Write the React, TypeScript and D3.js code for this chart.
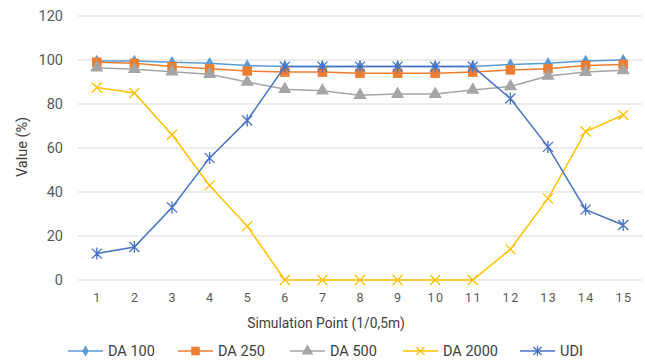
import React, { useEffect, useRef } from 'react';
import * as d3 from 'd3';

const points = ['1', '2', '3', '4', '5', '6', '7', '8', '9', '10', '11', '12', '13', '14', '15'];
const da100 = [99.5, 99.5, 99, 98.5, 97.5, 97, 97, 97, 97, 97, 97, 98, 98.5, 99.5, 100];
const da250 = [99, 98.5, 97, 96, 95, 94.5, 94.5, 94, 94, 94, 94.5, 95.5, 96, 97.5, 98];
const da500 = [96.5, 95.8, 94.7, 93.5, 90, 86.7, 86, 84, 84.5, 84.5, 86.4, 88, 92.7, 94.5, 95.3];
const da2000 = [87.5, 85, 66, 43, 24.5, 0, 0, 0, 0, 0, 0, 14, 37, 67.5, 75];
const udi = [12, 15, 33, 55.5, 72.5, 97, 97, 97, 97, 97, 97, 82.5, 60.5, 32, 25];
const yTicks = [0, 20, 40, 60, 80, 100, 120];

const series = [
  { name: 'DA 100', values: da100, color: '#5b9bd5', marker: 'diamond' },
  { name: 'DA 250', values: da250, color: '#ed7d31', marker: 'square' },
  { name: 'DA 500', values: da500, color: '#a5a5a5', marker: 'triangle' },
  { name: 'DA 2000', values: da2000, color: '#ffc000', marker: 'x' },
  { name: 'UDI', values: udi, color: '#4472c4', marker: 'star' },
];
const legendX = [68, 178, 290, 403, 520];

const W = 645;
const H = 364;
const margin = { top: 16, right: 3, bottom: 84, left: 78 };

function drawMarker(g: any, type: string, color: string, size: number) {
  if (type === 'x' || type === 'star') {
    const s = size;
    g.append('path')
      .attr('d', `M${-s},${-s}L${s},${s}M${-s},${s}L${s},${-s}` + (type === 'star' ? `M0,${-s * 1.2}L0,${s * 1.2}` : ''))
      .attr('stroke', color)
      .attr('stroke-width', 1.3)
      .attr('fill', 'none');
  } else {
    const sym = type === 'diamond' ? d3.symbolDiamond : type === 'square' ? d3.symbolSquare : d3.symbolTriangle;
    const area = type === 'diamond' ? 45 : type === 'square' ? 90 : 75;
    g.append('path')
      .attr('d', d3.symbol().type(sym).size(area * size / 5)())
      .attr('fill', color);
  }
}

const App = () => {
  const ref = useRef<SVGSVGElement>(null);

  useEffect(() => {
    const svg = d3.select(ref.current);
    svg.selectAll('*').remove();
    const font = 'Roboto, "Open Sans", Arial, sans-serif';

    const x = d3.scaleBand().domain(points).range([margin.left, W - margin.right]);
    const y = d3.scaleLinear().domain([0, 120]).range([H - margin.bottom, margin.top]);
    const cx = (i: number) => (x(points[i]) as number) + x.bandwidth() / 2;

    svg.append('g')
      .selectAll('line')
      .data(yTicks)
      .enter()
      .append('line')
      .attr('x1', margin.left)
      .attr('x2', W - margin.right)
      .attr('y1', (d) => y(d))
      .attr('y2', (d) => y(d))
      .attr('stroke', '#d9d9d9')
      .attr('stroke-width', 1);

    svg.append('g')
      .selectAll('text')
      .data(yTicks)
      .enter()
      .append('text')
      .attr('x', 63)
      .attr('y', (d) => y(d) + 5)
      .attr('text-anchor', 'end')
      .attr('font-family', font)
      .attr('font-size', 14.5)
      .attr('fill', '#595959')
      .text((d) => d);

    svg.append('g')
      .selectAll('text')
      .data(points)
      .enter()
      .append('text')
      .attr('x', (d, i) => cx(i) + 0.75)
      .attr('y', 302)
      .attr('text-anchor', 'middle')
      .attr('font-family', font)
      .attr('font-size', 12.5)
      .attr('letter-spacing', 1.5)
      .attr('fill', '#595959')
      .text((d) => d);

    svg.append('text')
      .attr('x', 326)
      .attr('y', 328)
      .attr('text-anchor', 'middle')
      .attr('font-family', font)
      .attr('font-size', 13.8)
      .attr('fill', '#404040')
      .text('Simulation Point (1/0,5m)');

    svg.append('text')
      .attr('transform', 'translate(27,147) rotate(-90)')
      .attr('text-anchor', 'middle')
      .attr('font-family', font)
      .attr('font-size', 14.5)
      .attr('fill', '#404040')
      .text('Value (%)');

    const line = d3.line<number>().x((d, i) => cx(i)).y((d) => y(d));

    series.forEach((s) => {
      svg.append('path')
        .attr('d', line(s.values))
        .attr('fill', 'none')
        .attr('stroke', s.color)
        .attr('stroke-width', 1.5);
      s.values.forEach((v, i) => {
        const g = svg.append('g').attr('transform', `translate(${cx(i)},${y(v)})`);
        drawMarker(g, s.marker, s.color, 5);
      });
    });

    series.forEach((s, i) => {
      const lx = legendX[i];
      const g = svg.append('g').attr('transform', `translate(${lx},351)`);
      g.append('line').attr('x1', 0).attr('x2', 35).attr('stroke', s.color).attr('stroke-width', 1.5);
      const m = g.append('g').attr('transform', 'translate(17.5,0)');
      drawMarker(m, s.marker, s.color, 4);
      g.append('text')
        .attr('x', 40)
        .attr('y', 5)
        .attr('font-family', font)
        .attr('font-size', 14.5)
        .attr('fill', '#404040')
        .text(s.name);
    });
  }, []);

  return (
    <svg ref={ref} width={W} height={H} style={{ position: 'absolute', left: 0, top: 0, background: '#fff' }} />
  );
};

export default App;
